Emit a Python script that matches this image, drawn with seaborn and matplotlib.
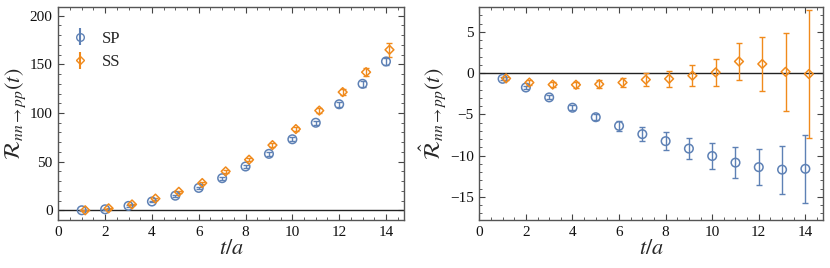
import numpy as np
import pandas as pd
import matplotlib
matplotlib.use("Agg")
import matplotlib.pyplot as plt
from matplotlib.ticker import MultipleLocator
import seaborn as sns

sns.set_theme(style="ticks")
plt.rcParams["font.family"] = ["Liberation Serif", "DejaVu Serif"]
plt.rcParams["mathtext.fontset"] = "stix"

BLUE = "#5E81B5"
ORANGE = "#F08A1C"

t = np.arange(1, 15)
shift = 0.15

# left panel: R_{nn->pp}(t)
sp_r = [0, 1, 4.5, 9, 15, 23, 33, 45, 58, 73, 90, 109, 130, 153]
sp_r_err = [0.5, 0.6, 0.7, 0.8, 1.0, 1.2, 1.4, 1.6, 1.8, 2.0, 2.2, 2.4, 2.8, 3.2]
ss_r = [0, 2, 6, 12, 19, 28, 40, 52, 67, 83.5, 102.5, 121.5, 142, 165]
ss_r_err = [0.5, 0.6, 0.8, 1.0, 1.2, 1.4, 1.6, 1.8, 2.0, 2.2, 2.5, 2.8, 4.0, 7.5]

# right panel: R-hat_{nn->pp}(t)
sp_h = [-0.7, -1.75, -2.95, -4.2, -5.35, -6.4, -7.4, -8.25, -9.15, -10.05, -10.85, -11.4, -11.7, -11.6]
sp_h_err = [0.2, 0.2, 0.25, 0.3, 0.35, 0.65, 0.87, 1.05, 1.3, 1.55, 1.85, 2.2, 2.9, 4.1]
ss_h = [-0.65, -1.15, -1.4, -1.42, -1.35, -1.15, -0.8, -0.7, -0.32, 0.08, 1.4, 1.1, 0.15, -0.12]
ss_h_err = [0.2, 0.3, 0.3, 0.35, 0.45, 0.55, 0.75, 0.95, 1.25, 1.6, 2.25, 3.25, 4.7, 7.7]

STYLE = {"SP": (BLUE, "o", 38), "SS": (ORANGE, "D", 20)}


def draw(ax, sp, sp_err, ss, ss_err, legend=False):
    df = pd.DataFrame({
        "t": np.concatenate([t, t + shift]),
        "y": np.concatenate([sp, ss]),
        "err": np.concatenate([sp_err, ss_err]),
        "set": ["SP"] * len(t) + ["SS"] * len(t),
    })
    ax.axhline(0, color="#222222", lw=1.0, zorder=1)
    for name, (color, mk, size) in STYLE.items():
        d = df[df["set"] == name]
        ax.errorbar(d["t"], d["y"], yerr=d["err"], fmt="none", ecolor=color,
                    elinewidth=1.0, capsize=2.2, capthick=1.0, zorder=2)
        sns.scatterplot(data=d, x="t", y="y", marker=mk, s=size,
                        facecolors="none", edgecolor=color, linewidth=1.1,
                        ax=ax, legend=False, zorder=3)
    if legend:
        h1 = ax.errorbar([], [], yerr=[], fmt="o", color=BLUE, mfc="none", ms=5.5, capsize=2)
        h2 = ax.errorbar([], [], yerr=[], fmt="D", color=ORANGE, mfc="none", ms=4, capsize=2)
        ax.legend([h1, h2], ["SP", "SS"], loc="upper left", frameon=False,
                  prop={"size": 12}, handlelength=0.8, handletextpad=0.9,
                  bbox_to_anchor=(0.0, 0.96), labelspacing=0.45)

    ax.set_xlim(0, 14.77)
    ax.xaxis.set_major_locator(MultipleLocator(2))
    ax.xaxis.set_minor_locator(MultipleLocator(0.5))
    ax.set_xlabel("$t/a$", fontsize=16, labelpad=1)
    for s in ax.spines.values():
        s.set_color("#555555")
        s.set_linewidth(1.0)
    ax.tick_params(which="both", direction="in", top=True, right=True,
                   color="#444444", labelsize=11, labelcolor="#111111", pad=4)
    ax.tick_params(which="major", length=4, width=0.8)
    ax.tick_params(which="minor", length=2, width=0.6)


fig = plt.figure(figsize=(8.3, 2.68), dpi=100)
ax1 = fig.add_axes([58.3 / 830, 48 / 268, (404 - 58.3) / 830, (220 - 7) / 268])
ax2 = fig.add_axes([479.3 / 830, 48 / 268, (823.3 - 479.3) / 830, (220 - 7) / 268])

draw(ax1, sp_r, sp_r_err, ss_r, ss_r_err, legend=True)
ax1.set_ylim(-10, 209)
ax1.yaxis.set_major_locator(MultipleLocator(50))
ax1.yaxis.set_minor_locator(MultipleLocator(10))
ax1.set_ylabel(r"$\mathcal{R}_{nn\to pp}(t)$", fontsize=16, labelpad=1)

draw(ax2, sp_h, sp_h_err, ss_h, ss_h_err)
ax2.set_ylim(-17.8, 8.0)
ax2.yaxis.set_major_locator(MultipleLocator(5))
ax2.yaxis.set_minor_locator(MultipleLocator(1))
ax2.set_ylabel(r"$\hat{\mathcal{R}}_{nn\to pp}(t)$", fontsize=16, labelpad=1)

fig.savefig("out.png", dpi=100)
